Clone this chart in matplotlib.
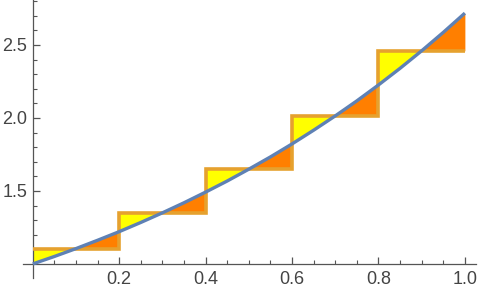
import matplotlib
matplotlib.use("Agg")
import matplotlib.pyplot as plt
import numpy as np
from matplotlib import font_manager
from matplotlib.ticker import FixedLocator

# pick the regular Liberation Sans file (not the Narrow one)
fpath = None
for f in font_manager.fontManager.ttflist:
    if (f.name == "Liberation Sans" and "Narrow" not in f.fname
            and f.style == "normal" and f.weight in (400, "normal", "regular")):
        fpath = f.fname
        break
tick_font = font_manager.FontProperties(fname=fpath, size=13) if fpath else \
    font_manager.FontProperties(family="DejaVu Sans", size=12)

# curve (x every 0.05)
curve_x = [0.00, 0.05, 0.10, 0.15, 0.20, 0.25, 0.30, 0.35, 0.40, 0.45, 0.50,
           0.55, 0.60, 0.65, 0.70, 0.75, 0.80, 0.85, 0.90, 0.95, 1.00]
curve_y = [1.000, 1.051, 1.105, 1.162, 1.221, 1.284, 1.350, 1.419, 1.492, 1.568, 1.649,
           1.733, 1.822, 1.916, 2.014, 2.117, 2.226, 2.340, 2.460, 2.586, 2.718]

# step edges and heights
step_edges = [0.0, 0.2, 0.4, 0.6, 0.8, 1.0]
step_heights = [1.105, 1.350, 1.649, 2.014, 2.460]

xticks = [0.2, 0.4, 0.6, 0.8, 1.0]
yticks = [1.5, 2.0, 2.5]
xlabels = ["0.2", "0.4", "0.6", "0.8", "1.0"]
ylabels = ["1.5", "2.0", "2.5"]

fig = plt.figure(figsize=(4.8, 2.96), dpi=100)
ax = fig.add_axes([0, 0, 1, 1])
ax.set_xlim(-0.076, 1.035)
ax.set_ylim(0.78, 2.808)

cx = np.array(curve_x)
cy = np.array(curve_y)
for i, h in enumerate(step_heights):
    m = (cx >= step_edges[i] - 1e-9) & (cx <= step_edges[i + 1] + 1e-9)
    xs, ys = cx[m], cy[m]
    hs = np.full_like(xs, h)
    ax.fill_between(xs, ys, hs, where=ys <= hs, interpolate=True, color="#FFFF00", lw=0)
    ax.fill_between(xs, ys, hs, where=ys >= hs, interpolate=True, color="#FF7F00", lw=0)

ax.stairs(step_heights, step_edges, baseline=None, color="#E6A12E", lw=2.6, zorder=3)
ax.plot(curve_x, curve_y, color="#5E81B5", lw=2.4, zorder=4, solid_capstyle="butt")

# axes like Mathematica
for s in ["top", "right"]:
    ax.spines[s].set_visible(False)
ax.spines["left"].set_position(("data", 0))
ax.spines["bottom"].set_position(("data", 1.0))
ax.spines["left"].set_bounds(0.9, 2.808)
ax.spines["bottom"].set_bounds(-0.023, 1.025)
for s in ["left", "bottom"]:
    ax.spines[s].set_color("#555555")
    ax.spines[s].set_linewidth(0.9)

ax.set_xticks(xticks)
ax.set_yticks(yticks)
ax.set_xticklabels(xlabels, fontproperties=tick_font, color="#444444")
ax.set_yticklabels(ylabels, fontproperties=tick_font, color="#444444")
ax.xaxis.set_minor_locator(FixedLocator(np.arange(0.05, 1.001, 0.05)))
ax.yaxis.set_minor_locator(FixedLocator(np.arange(1.1, 2.81, 0.1)))
ax.tick_params(which="major", direction="in", length=5, width=0.9, color="#555555")
ax.tick_params(which="minor", direction="in", length=3, width=0.8, color="#555555")
ax.tick_params(axis="x", pad=5)
ax.tick_params(axis="y", pad=4)

fig.savefig("out.png", dpi=100)
